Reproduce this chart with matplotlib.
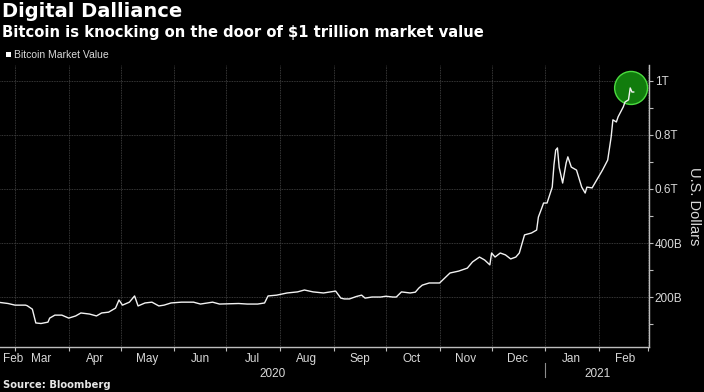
import matplotlib
matplotlib.use("Agg")
import matplotlib.pyplot as plt
import matplotlib.dates as mdates
from matplotlib.patches import Ellipse
import pandas as pd

# Bitcoin market value, billions of US dollars
dates = ["2020-02-20", "2020-02-26", "2020-03-01", "2020-03-07", "2020-03-08", "2020-03-11",
         "2020-03-13", "2020-03-16", "2020-03-20", "2020-03-21", "2020-03-24", "2020-03-28",
         "2020-04-01", "2020-04-05", "2020-04-08", "2020-04-13", "2020-04-17", "2020-04-20",
         "2020-04-24", "2020-04-28", "2020-04-30", "2020-05-02", "2020-05-06", "2020-05-09",
         "2020-05-11", "2020-05-15", "2020-05-19", "2020-05-23", "2020-05-26", "2020-05-30",
         "2020-06-05", "2020-06-12", "2020-06-16", "2020-06-23", "2020-06-27", "2020-07-08",
         "2020-07-13", "2020-07-19", "2020-07-23", "2020-07-25", "2020-07-30", "2020-08-05",
         "2020-08-11", "2020-08-15", "2020-08-20", "2020-08-26", "2020-09-02", "2020-09-05",
         "2020-09-07", "2020-09-10", "2020-09-14", "2020-09-17", "2020-09-19", "2020-09-23",
         "2020-09-28", "2020-10-01", "2020-10-05", "2020-10-07", "2020-10-10", "2020-10-15",
         "2020-10-18", "2020-10-20", "2020-10-22", "2020-10-26", "2020-11-01", "2020-11-07",
         "2020-11-12", "2020-11-17", "2020-11-20", "2020-11-24", "2020-11-27", "2020-11-30",
         "2020-12-01", "2020-12-03", "2020-12-06", "2020-12-09", "2020-12-12", "2020-12-15",
         "2020-12-17", "2020-12-20", "2020-12-24", "2020-12-27", "2020-12-28", "2020-12-30",
         "2020-12-31", "2021-01-02", "2021-01-05", "2021-01-06", "2021-01-07", "2021-01-08",
         "2021-01-09", "2021-01-11", "2021-01-13", "2021-01-14", "2021-01-16", "2021-01-19",
         "2021-01-22", "2021-01-24", "2021-01-25", "2021-01-28", "2021-01-30", "2021-02-03",
         "2021-02-06", "2021-02-08", "2021-02-09", "2021-02-11", "2021-02-12", "2021-02-15",
         "2021-02-16", "2021-02-18", "2021-02-19", "2021-02-20", "2021-02-21"]
values = [181, 176, 170, 170, 168, 155,
          104, 102, 107, 122, 133, 133,
          122, 130, 141, 137, 130, 141,
          144, 159, 189, 170, 181, 204,
          167, 178, 181, 167, 170, 178,
          181, 181, 174, 181, 174, 176,
          174, 174, 178, 204, 207, 215,
          219, 226, 219, 215, 222, 196,
          193, 193, 202, 207, 196, 200,
          200, 203, 200, 200, 219, 215,
          218, 233, 244, 252, 252, 289,
          296, 307, 330, 348, 337, 319,
          363, 348, 363, 356, 341, 348,
          363, 430, 437, 448, 496, 530,
          548, 548, 607, 690, 744, 752,
          680, 622, 696, 719, 681, 670,
          607, 585, 607, 604, 626, 670,
          707, 793, 856, 848, 867, 904,
          922, 930, 974, 959, 959]

y_ticks = [200, 400, 600, 800, 1000]
y_labels = ["200B", "400B", "0.6T", "0.8T", "1T"]

bg = "black"
grid_c = "#4a4a4a"
text_c = "#d9d9d9"
small_font = "Liberation Sans"

s = pd.Series(values, index=pd.to_datetime(dates))

fig = plt.figure(figsize=(7.04, 3.92), dpi=100, facecolor=bg)
ax = fig.add_axes([0.0, 1 - 347 / 392, 649 / 704, (347 - 65) / 392], facecolor=bg)

ax.plot(s.index, s.values, color="#f2f2f2", lw=1.0, solid_joinstyle="round", zorder=3)

x0 = pd.Timestamp("2020-02-21 08:00")
x1 = pd.Timestamp("2021-03-01 20:00")
ax.set_xlim(x0, x1)
ax.set_ylim(15, 1059)

# circle around the latest value
circ_x = mdates.date2num(s.index[-3]) + 0.5
ax.add_patch(Ellipse((circ_x, s.values[-3]), width=19.0, height=16.5 * 2 / 0.27,
                     facecolor="#117c0d", edgecolor="#4bdc3f", lw=1.0, zorder=1))

# axes styling
for side in ["left", "top"]:
    ax.spines[side].set_visible(False)
for side in ["right", "bottom"]:
    ax.spines[side].set_color("#bdbdbd")
    ax.spines[side].set_linewidth(1.0)

ax.yaxis.tick_right()
ax.set_yticks(y_ticks)
ax.set_yticklabels(y_labels)
ax.set_yticks([100, 300, 500, 700, 900], minor=True)
ax.tick_params(axis="y", which="both", direction="out", length=3, width=0.8,
               color="#bdbdbd", labelcolor=text_c, labelsize=8.5, pad=1)
for lab in ax.get_yticklabels():
    lab.set_family(small_font)

ax.yaxis.set_label_position("right")
ax.set_ylabel("U.S. Dollars", rotation=270, color=text_c, fontsize=10.5,
              family=small_font)
ax.yaxis.set_label_coords(1.08, 1 - (206 - 65) / (347 - 65))

ax.xaxis.set_major_locator(mdates.MonthLocator())
ax.xaxis.set_major_formatter(plt.NullFormatter())
ax.xaxis.set_minor_locator(mdates.MonthLocator(bymonthday=16))
ax.xaxis.set_minor_formatter(mdates.DateFormatter("%b"))
ax.tick_params(axis="x", which="major", direction="out", length=3, width=0.8,
               color="#bdbdbd")
ax.tick_params(axis="x", which="minor", length=0, labelcolor=text_c,
               labelsize=8.5, pad=4)
for lab in ax.get_xticklabels(minor=True):
    lab.set_family(small_font)

# first partial month label
ax.text(pd.Timestamp("2020-02-29"), -0.02, "Feb", transform=ax.get_xaxis_transform(),
        ha="center", va="top", color=text_c, fontsize=8.5, family=small_font)

ax.grid(True, which="major", color=grid_c, lw=0.6, ls=(0, (1, 1)))
ax.set_axisbelow(True)

# year labels
trans = ax.get_xaxis_transform()
jan1 = pd.Timestamp("2021-01-01")
ax.text(x0 + (jan1 - x0) / 2, -0.075, "2020", transform=trans, ha="center", va="top",
        color=text_c, fontsize=8.5, family=small_font)
ax.text(jan1 + (x1 - jan1) / 2, -0.075, "2021", transform=trans, ha="center", va="top",
        color=text_c, fontsize=8.5, family=small_font)
ax.plot([jan1, jan1], [-0.055, -0.105], transform=trans, color="#8c8c8c", lw=0.8,
        clip_on=False)

# titles, legend, source
fig.text(0.003, 0.995, "Digital Dalliance", ha="left", va="top", color="white",
         fontsize=14, fontweight="bold", family="DejaVu Sans")
fig.text(0.003, 0.935, "Bitcoin is knocking on the door of $1 trillion market value",
         ha="left", va="top", color="white", fontsize=10.6, fontweight="bold",
         family="DejaVu Sans")
fig.patches.append(plt.Rectangle((6 / 704, 1 - 57 / 392), 5 / 704, 5 / 392,
                                 transform=fig.transFigure, facecolor="white",
                                 edgecolor="none"))
fig.text(14 / 704, 1 - 54.5 / 392, "Bitcoin Market Value", ha="left", va="center",
         color=text_c, fontsize=7.5, family=small_font)
fig.text(0.004, 1 - 385 / 392, "Source: Bloomberg", ha="left", va="center",
         color="#e6e6e6", fontsize=7.2, fontweight="bold", family="DejaVu Sans")

fig.savefig("out.png", dpi=100, facecolor=bg)
